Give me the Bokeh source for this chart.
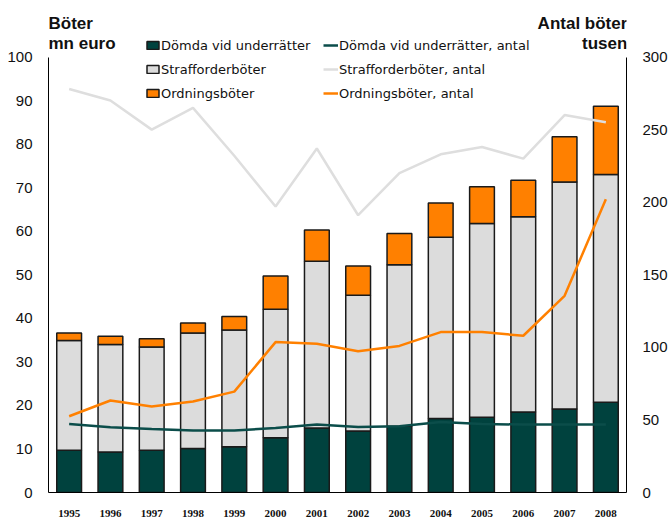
from bokeh.plotting import figure
from bokeh.models import (ColumnDataSource, Range1d, LinearAxis, FixedTicker, Legend,
                          LegendItem, Label, FactorRange)
from bokeh.embed import file_html
from bokeh.resources import INLINE

years = ["1995", "1996", "1997", "1998", "1999", "2000", "2001", "2002", "2003",
         "2004", "2005", "2006", "2007", "2008"]
# Böter, mn euro (stacked segments)
domda = [9.7, 9.3, 9.7, 10.1, 10.5, 12.6, 14.8, 14.1, 15.2, 17.0, 17.3, 18.5, 19.2, 20.7]
strafforder = [25.2, 24.7, 23.7, 26.5, 26.8, 29.5, 38.3, 31.2, 37.1, 41.6, 44.5, 44.8, 52.1, 52.3]
ordning = [1.7, 1.9, 1.9, 2.3, 3.1, 7.6, 7.2, 6.7, 7.2, 7.9, 8.4, 8.4, 10.4, 15.7]
# Antal böter, tusen
domda_antal = [47.2, 45.0, 43.8, 42.7, 42.7, 44.5, 46.8, 45.2, 45.6, 48.6, 47.2, 46.8, 46.8, 46.8]
straff_antal = [278, 270, 250, 265, 232, 197, 237, 191, 220, 233, 238, 230, 260, 255]
ordning_antal = [52.5, 63.4, 59.3, 62.7, 69.5, 103.6, 102.5, 97.3, 101, 110.5, 110.5, 108, 135.5, 202]

left_ticks = [0, 10, 20, 30, 40, 50, 60, 70, 80, 90, 100]
right_ticks = [0, 50, 100, 150, 200, 250, 300]

DARK = "#00423e"
GRAY = "#dcdcdc"
ORANGE = "#ff8000"
LGRAY = "#dedede"
LTEAL = "#0b4d4a"

W, H = 670, 519
TOP_PAD = 112.98   # room above 100 for titles and legend

src = ColumnDataSource(dict(year=years, d=domda, s=strafforder, o=ordning,
                            da=domda_antal, sa=straff_antal, oa=ordning_antal))

p = figure(width=W, height=H, x_range=FactorRange(*years), y_range=Range1d(0, TOP_PAD),
           output_backend="svg", toolbar_location=None,
           min_border_top=0, min_border_bottom=23, min_border_left=48, min_border_right=41)
p.outline_line_color = None
p.xgrid.grid_line_color = None
p.ygrid.grid_line_color = None
p.x_range.range_padding = 0
p.extra_y_ranges = {"right": Range1d(0, TOP_PAD * 3)}

bars = p.vbar_stack(["d", "s", "o"], x="year", width=0.6, source=src,
                    color=[DARK, GRAY, ORANGE], line_color="#1a1a1a", line_width=1.5)
for b, c in zip(bars, [DARK, GRAY, ORANGE]):
    b.glyph.fill_color = c
    b.glyph.line_color = "#1a1a1a"

l1 = p.line("year", "da", source=src, y_range_name="right", line_color=LTEAL, line_width=2.5)
l2 = p.line("year", "sa", source=src, y_range_name="right", line_color=LGRAY, line_width=2.5)
l3 = p.line("year", "oa", source=src, y_range_name="right", line_color=ORANGE, line_width=2.5)

# axes
lax = p.yaxis[0]
lax.ticker = FixedTicker(ticks=left_ticks)
lax.bounds = (0, 100)
rax = LinearAxis(y_range_name="right", ticker=FixedTicker(ticks=right_ticks), bounds=(0, 300))
p.add_layout(rax, "right")
for ax in [lax, rax]:
    ax.axis_line_color = "black"
    ax.major_tick_line_color = None
    ax.minor_tick_line_color = None
    ax.major_label_text_font = "Liberation Sans"
    ax.major_label_text_font_size = "15px"
    ax.major_label_text_color = "#111111"
    ax.major_label_standoff = 10

xa = p.xaxis[0]
xa.axis_line_color = "black"
xa.major_tick_line_color = None
xa.minor_tick_line_color = None
xa.major_label_text_font = "Liberation Serif"
xa.major_label_text_font_size = "11px"
xa.major_label_text_font_style = "bold"
xa.major_label_text_color = "#111111"
xa.major_label_standoff = 11

# axis titles
for txt, x, y, al in [("Böter", 0.0, 107.7, "left"), ("mn euro", 0.0, 103.0, "left"),
                      ("Antal böter", 14.02, 107.7, "right"), ("tusen", 14.02, 103.0, "right")]:
    p.add_layout(Label(x=x, y=y, text=txt, text_align=al, text_baseline="middle",
                       text_font="Liberation Sans", text_font_style="bold",
                       text_font_size="17px", text_color="#111111"))

def make_legend(items, x, y):
    lg = Legend(items=items, location=(x, y), orientation="vertical")
    lg.label_text_font = "DejaVu Sans"
    lg.label_text_font_size = "13px"
    lg.label_text_color = "#111111"
    lg.label_height = 20
    lg.glyph_height = 10
    lg.glyph_width = 15
    lg.label_standoff = 1
    lg.spacing = 4
    lg.padding = 0
    lg.margin = 0
    lg.border_line_color = None
    lg.background_fill_alpha = 0
    return lg

lg1 = make_legend([LegendItem(label="Dömda vid underrätter", renderers=[bars[0]]),
                   LegendItem(label="Strafforderböter", renderers=[bars[1]]),
                   LegendItem(label="Ordningsböter", renderers=[bars[2]])], 97, 389)
lg2 = make_legend([LegendItem(label="Dömda vid underrätter, antal", renderers=[l1]),
                   LegendItem(label="Strafforderböter, antal", renderers=[l2]),
                   LegendItem(label="Ordningsböter, antal", renderers=[l3])], 275, 389)
p.add_layout(lg1, "center")
p.add_layout(lg2, "center")

open("out.html", "w").write(file_html(p, INLINE))
